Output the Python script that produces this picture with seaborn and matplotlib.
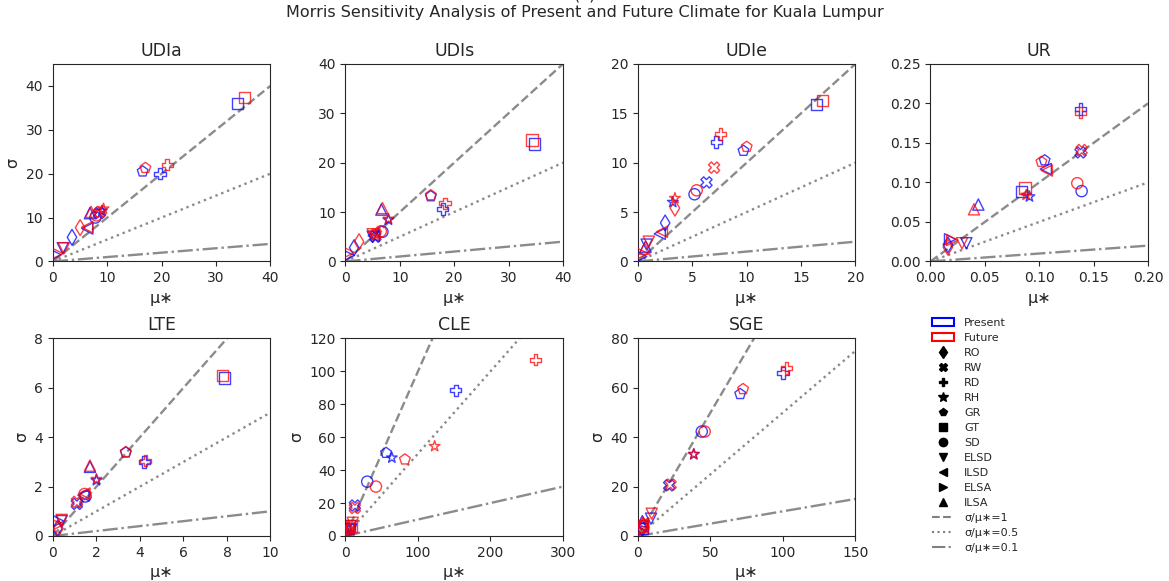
import numpy as np
import pandas as pd
import matplotlib
matplotlib.use("Agg")
import matplotlib.pyplot as plt
import seaborn as sns
from matplotlib.lines import Line2D
from matplotlib.patches import Patch

# ---------------- data ----------------
params = ["RO", "RW", "RD", "RH", "GR", "GT", "SD", "ELSD", "ILSD", "ELSA", "ILSA"]
marker_list = ["d", "X", "P", "*", "p", "s", "o", "v", "<", ">", "^"]
panels = ["UDIa", "UDIs", "UDIe", "UR", "LTE", "CLE", "SGE"]

udia_mu_present = [3.5, 8.5, 19.7, 9.0, 16.5, 34.0, 7.8, 1.8, 6.3, 0.5, 6.8]
udia_sigma_present = [5.5, 11.0, 20.0, 11.5, 20.5, 36.0, 10.0, 3.0, 7.5, 1.5, 11.0]
udia_mu_future = [5.0, 8.7, 21.0, 9.3, 17.0, 35.2, 8.0, 2.0, 6.3, 0.8, 7.0]
udia_sigma_future = [7.7, 11.3, 22.0, 12.0, 21.3, 37.3, 10.5, 3.0, 7.8, 1.8, 11.3]

udis_mu_present = [1.6, 5.5, 17.9, 7.9, 15.7, 34.8, 6.8, 5.0, 5.2, 0.6, 6.6]
udis_sigma_present = [2.8, 5.0, 10.6, 8.4, 13.2, 23.8, 6.0, 5.0, 5.2, 1.2, 10.5]
udis_mu_future = [2.5, 5.6, 18.3, 7.9, 15.7, 34.3, 6.5, 5.0, 5.3, 0.6, 6.8]
udis_sigma_future = [4.0, 5.5, 11.8, 8.6, 13.4, 24.6, 6.1, 5.5, 5.8, 1.8, 10.8]

udie_mu_present = [2.5, 6.3, 7.2, 3.2, 9.7, 16.4, 5.2, 0.8, 2.0, 0.3, 0.7]
udie_sigma_present = [3.9, 8.0, 12.1, 6.0, 11.2, 15.9, 6.8, 1.7, 2.8, 0.5, 1.5]
udie_mu_future = [3.4, 7.0, 7.6, 3.4, 10.0, 17.0, 5.4, 1.0, 2.2, 0.4, 0.6]
udie_sigma_future = [5.4, 9.5, 12.9, 6.4, 11.6, 16.3, 7.2, 2.0, 3.0, 0.8, 1.3]

ur_mu_present = [0.016, 0.138, 0.138, 0.091, 0.105, 0.084, 0.139, 0.033, 0.106, 0.018, 0.044]
ur_sigma_present = [0.021, 0.138, 0.193, 0.082, 0.128, 0.088, 0.089, 0.023, 0.117, 0.028, 0.072]
ur_mu_future = [0.016, 0.139, 0.138, 0.088, 0.102, 0.087, 0.135, 0.029, 0.107, 0.020, 0.040]
ur_sigma_future = [0.018, 0.141, 0.188, 0.084, 0.126, 0.093, 0.099, 0.023, 0.115, 0.027, 0.066]

lte_mu_present = [0.2, 1.1, 4.2, 2.0, 3.35, 7.9, 1.5, 0.4, 1.4, 0.25, 1.7]
lte_sigma_present = [0.3, 1.3, 3.0, 2.25, 3.38, 6.4, 1.6, 0.6, 1.65, 0.6, 2.8]
lte_mu_future = [0.25, 1.1, 4.25, 2.0, 3.35, 7.8, 1.45, 0.4, 1.45, 0.2, 1.7]
lte_sigma_future = [0.3, 1.38, 3.05, 2.3, 3.4, 6.5, 1.7, 0.65, 1.72, 0.45, 2.85]

cle_mu_present = [3, 13, 152, 64, 56, 5, 30, 8, 4, 3, 3]
cle_sigma_present = [3, 18.5, 88.5, 47.5, 50.5, 6, 33, 4, 4, 2, 5]
cle_mu_future = [4, 13, 262, 123, 82, 8, 42, 10, 5, 3, 4]
cle_sigma_future = [4, 17, 107, 54.5, 46.5, 6, 30, 8, 5, 3, 4]

sge_mu_present = [3, 21.5, 100, 38.5, 70.5, 3, 44, 9, 3, 2, 3]
sge_sigma_present = [3, 20.5, 66, 33, 57.5, 3, 42.3, 7, 4, 2, 6]
sge_mu_future = [3.5, 22.5, 102.5, 38.5, 72.5, 3, 46, 9.5, 3.5, 2, 3.5]
sge_sigma_future = [4.5, 20.8, 68, 33.2, 59.5, 4, 42.3, 9, 5, 2, 5]

ratios = [1, 0.5, 0.1]
ratio_styles = ["--", ":", "-."]
xlims = [40, 40, 20, 0.2, 10, 300, 150]
ylims = [45, 40, 20, 0.25, 8, 120, 80]

panel_data = {
    "UDIa": (udia_mu_present, udia_sigma_present, udia_mu_future, udia_sigma_future),
    "UDIs": (udis_mu_present, udis_sigma_present, udis_mu_future, udis_sigma_future),
    "UDIe": (udie_mu_present, udie_sigma_present, udie_mu_future, udie_sigma_future),
    "UR": (ur_mu_present, ur_sigma_present, ur_mu_future, ur_sigma_future),
    "LTE": (lte_mu_present, lte_sigma_present, lte_mu_future, lte_sigma_future),
    "CLE": (cle_mu_present, cle_sigma_present, cle_mu_future, cle_sigma_future),
    "SGE": (sge_mu_present, sge_sigma_present, sge_mu_future, sge_sigma_future),
}

# ---------------- style ----------------
sns.set_style("ticks")
plt.rcParams["font.family"] = ["DejaVu Sans"]
plt.rcParams["font.size"] = 10

palette = {"Present": "#0000ff", "Future": "#ff0000"}
markers = dict(zip(params, marker_list))

fig, axes = plt.subplots(2, 4, figsize=(11.69, 5.81), dpi=100)
fig.subplots_adjust(left=0.0453, right=0.982, top=0.890, bottom=0.0775,
                    wspace=0.345, hspace=0.39)

ylabel_panels = {"UDIa", "LTE", "CLE", "SGE"}

for i, name in enumerate(panels):
    ax = axes.flat[i]
    mp, sp, mf, sf = panel_data[name]
    df = pd.DataFrame({
        "mu": list(mp) + list(mf),
        "sigma": list(sp) + list(sf),
        "period": ["Present"] * len(params) + ["Future"] * len(params),
        "param": params + params,
    })
    xmax = xlims[i]
    xs = np.array([0, xmax])
    for r, ls in zip(ratios, ratio_styles):
        ax.plot(xs, r * xs, ls=ls, color="#7f7f7f", lw=1.7, alpha=0.9, zorder=1)
    sns.scatterplot(data=df, x="mu", y="sigma", hue="period", style="param",
                    palette=palette, markers=markers, s=65, legend=False,
                    ax=ax, zorder=3)
    for coll in ax.collections:
        fc = coll.get_facecolors()
        coll.set_edgecolors(fc)
        coll.set_facecolors("none")
        coll.set_linewidths(1.0)
        coll.set_alpha(0.75)
    ax.set_xlim(0, xmax)
    ax.set_ylim(0, ylims[i])
    ax.set_title(name, fontsize=12.5)
    ax.set_xlabel("μ∗", fontsize=11.5)
    if name in ylabel_panels:
        ax.set_ylabel("σ", fontsize=11.5)
    else:
        ax.set_ylabel("")
    if name == "UR":
        ax.set_yticks(np.arange(0, 0.2501, 0.05))
        ax.set_xticks(np.arange(0, 0.2001, 0.05))
        ax.yaxis.set_major_formatter(matplotlib.ticker.FormatStrFormatter("%.2f"))
        ax.xaxis.set_major_formatter(matplotlib.ticker.FormatStrFormatter("%.2f"))
    if name == "UDIa":
        ax.set_yticks([0, 10, 20, 30, 40])

axes.flat[7].axis("off")

# legend
handles = [Patch(facecolor="none", edgecolor="blue", lw=1.5, label="Present"),
           Patch(facecolor="none", edgecolor="red", lw=1.5, label="Future")]
for p, m in zip(params, marker_list):
    handles.append(Line2D([], [], ls="none", marker=m, color="black",
                          markersize=6 if m != "*" else 7, label=p))
for r, ls in zip(ratios, ratio_styles):
    handles.append(Line2D([], [], ls=ls, color="gray", lw=1.5, label=f"σ/μ∗={r}"))
fig.legend(handles=handles, loc="upper left", bbox_to_anchor=(922 / 1169, 1 - 308 / 581),
           frameon=False, fontsize=8, labelspacing=0.45, handletextpad=0.9)

fig.suptitle("(a)\nMorris Sensitivity Analysis of Present and Future Climate for Kuala Lumpur",
             y=1 + 12 / 581, fontsize=11.5)

fig.savefig("out.png", dpi=100)
